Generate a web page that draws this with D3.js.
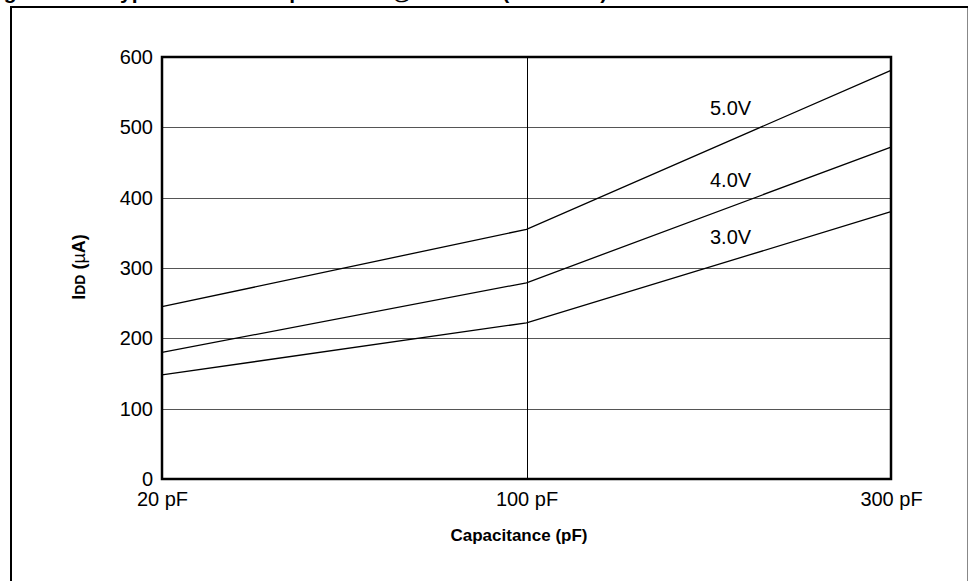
<!DOCTYPE html>
<html><head><meta charset="utf-8">
<script src="https://cdn.jsdelivr.net/npm/d3@7"></script>
<style>
html,body{margin:0;padding:0;background:#fff;}
svg{display:block;font-family:Arial,"Liberation Sans",Helvetica,sans-serif;}
</style></head>
<body>
<svg id="chart" width="968" height="581"></svg>
<script>
// ---- data ----
const categories = ["20 pF", "100 pF", "300 pF"];
const seriesNames = ["5.0V", "4.0V", "3.0V"];
const v50 = [245, 355, 581];
const v40 = [180, 279, 472];
const v30 = [148, 222, 380];
const labelPos = [517, 415, 334];
const yTicks = [0, 100, 200, 300, 400, 500, 600];
const titleText = "Figure 11-6: Typical IDD vs. Capacitance @ 500 kHz (RC Mode)";

const series = seriesNames.map((n, i) => ({name: n, values: [v50, v40, v30][i], labelY: labelPos[i]}));

const svg = d3.select("#chart");
const L = 162, R = 891, T = 57, B = 479;

const x = d3.scalePoint().domain(categories).range([L, R]);
const y = d3.scaleLinear().domain([0, 600]).range([B, T]);

// clipped title (reference shows only its lowest pixels)
svg.append("text").attr("x", -15).attr("y", -1)
  .attr("font-size", 21).attr("font-weight", "bold").text(titleText);

// outer frame
svg.append("line").attr("x1", 10).attr("x2", 968).attr("y1", 7).attr("y2", 7)
  .attr("stroke", "#000").attr("stroke-width", 2);
svg.append("line").attr("x1", 11).attr("x2", 11).attr("y1", 6).attr("y2", 581)
  .attr("stroke", "#000").attr("stroke-width", 2);
svg.append("line").attr("x1", 967.5).attr("x2", 967.5).attr("y1", 8).attr("y2", 581)
  .attr("stroke", "#888").attr("stroke-width", 1);

// horizontal gridlines
svg.append("g").selectAll("line").data(yTicks.filter(d => d > 0 && d < 600)).join("line")
  .attr("x1", L).attr("x2", R)
  .attr("y1", d => Math.round(y(d)) + 0.5).attr("y2", d => Math.round(y(d)) + 0.5)
  .attr("stroke", "#555").attr("stroke-width", 1);

// vertical gridline(s)
svg.append("g").selectAll("line").data(categories.slice(1, -1)).join("line")
  .attr("x1", d => Math.round(x(d)) + 0.5).attr("x2", d => Math.round(x(d)) + 0.5)
  .attr("y1", T).attr("y2", B)
  .attr("stroke", "#000").attr("stroke-width", 1);

// data lines
const line = d3.line().x((d, i) => x(categories[i])).y(d => y(d));
svg.append("g").selectAll("path").data(series).join("path")
  .attr("d", d => line(d.values))
  .attr("fill", "none").attr("stroke", "#000").attr("stroke-width", 1.3);

// series labels
svg.append("g").selectAll("text").data(series).join("text")
  .attr("x", 710).attr("y", d => y(d.labelY))
  .attr("font-size", 20).attr("fill", "#000").text(d => d.name);

// plot border
svg.append("rect").attr("x", L).attr("y", T).attr("width", R - L).attr("height", B - T)
  .attr("fill", "none").attr("stroke", "#000").attr("stroke-width", 2.5);

// y axis labels
const yAxis = d3.axisLeft(y).tickValues(yTicks).tickSize(0).tickPadding(9);
const gy = svg.append("g").attr("transform", `translate(${L},0)`).call(yAxis);
gy.select(".domain").remove();
gy.selectAll("text").attr("font-size", 20).attr("fill", "#000")
  .attr("font-family", "Arial, 'Liberation Sans', sans-serif");

// x axis labels
const xAxis = d3.axisBottom(x).tickSize(0).tickPadding(13);
const gx = svg.append("g").attr("transform", `translate(0,${B})`).call(xAxis);
gx.select(".domain").remove();
gx.selectAll("text").attr("font-size", 20).attr("fill", "#000")
  .attr("font-family", "Arial, 'Liberation Sans', sans-serif");

// x axis title
svg.append("text").attr("x", 519).attr("y", 541).attr("text-anchor", "middle")
  .attr("font-size", 17).attr("font-weight", "bold").text("Capacitance (pF)");

// y axis title
const yt = svg.append("text").attr("transform", "translate(85,267) rotate(-90)")
  .attr("text-anchor", "middle").attr("font-weight", "bold").attr("font-size", 18);
yt.append("tspan").text("I");
yt.append("tspan").attr("font-size", 14).text("DD");
yt.append("tspan").text(" (");
yt.append("tspan").attr("font-weight", "normal").text("µ");
yt.append("tspan").text("A)");
</script>
</body></html>
